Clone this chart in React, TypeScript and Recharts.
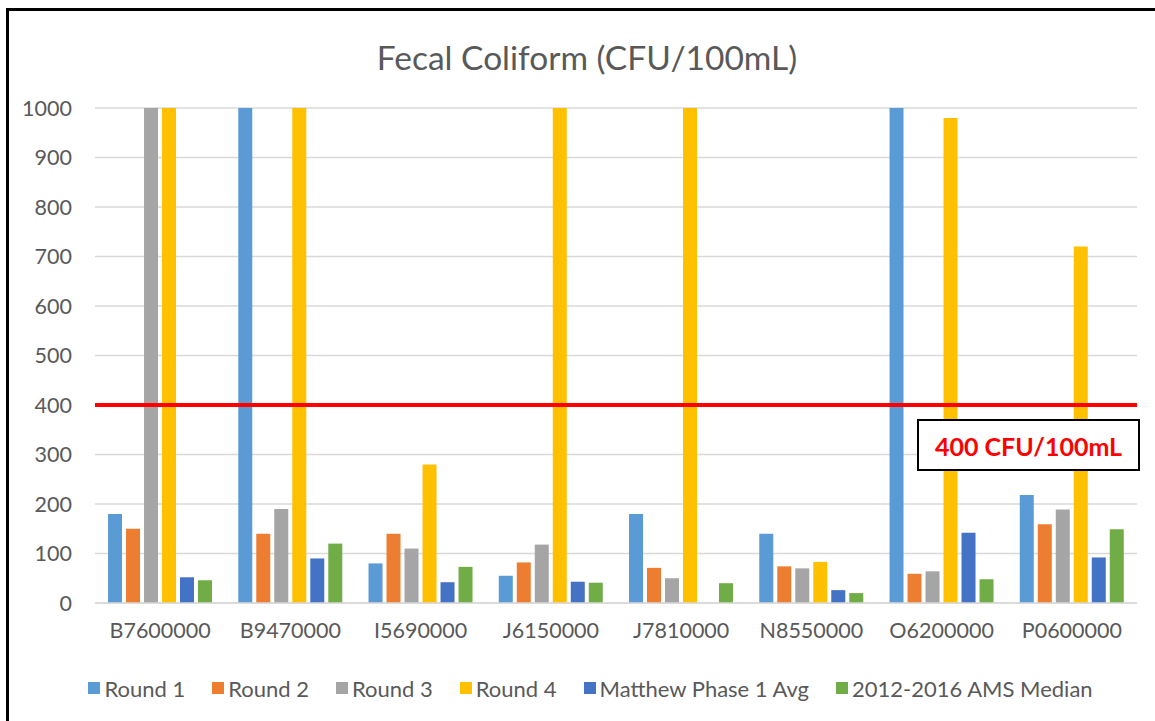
import React from 'react';
import { BarChart, Bar, XAxis, YAxis, CartesianGrid, ReferenceLine } from 'recharts';

const categories = ['B7600000', 'B9470000', 'I5690000', 'J6150000', 'J7810000', 'N8550000', 'O6200000', 'P0600000'];
const round1 = [180, 1000, 80, 55, 180, 140, 1000, 218];
const round2 = [150, 140, 140, 82, 71, 74, 59, 159];
const round3 = [1000, 190, 110, 118, 50, 70, 64, 189];
const round4 = [1000, 1000, 280, 1000, 1000, 83, 980, 720];
const matthew: (number | null)[] = [52, 90, 42, 43, null, 26, 142, 92];
const amsMedian = [46, 120, 73, 41, 40, 20, 48, 149];
const yTicks = [0, 100, 200, 300, 400, 500, 600, 700, 800, 900, 1000];
const threshold = 400;
const thresholdLabel = '400 CFU/100mL';
const title = 'Fecal Coliform (CFU/100mL)';

const series = [
  { key: 'r1', name: 'Round 1', color: '#5B9BD5', values: round1 },
  { key: 'r2', name: 'Round 2', color: '#ED7D31', values: round2 },
  { key: 'r3', name: 'Round 3', color: '#A5A5A5', values: round3 },
  { key: 'r4', name: 'Round 4', color: '#FFC000', values: round4 },
  { key: 'mt', name: 'Matthew Phase 1 Avg', color: '#4472C4', values: matthew },
  { key: 'ams', name: '2012-2016 AMS Median', color: '#70AD47', values: amsMedian },
];

const data = categories.map((c, i) => {
  const row: Record<string, any> = { name: c };
  series.forEach((s) => {
    row[s.key] = s.values[i];
  });
  return row;
});

const FONT = 'Lato, "Open Sans", sans-serif';
const TEXT = '#595959';

const ThresholdLabel = (props: any) => {
  const vb = props.viewBox || {};
  const right = vb.x + vb.width + 2;
  const w = 221;
  const h = 50;
  const x = right - w;
  const y = vb.y + 15;
  return (
    <g>
      <rect x={x} y={y} width={w} height={h} fill="#fff" stroke="#000" strokeWidth={2} />
      <text
        x={x + w / 2}
        y={y + h / 2 + 1}
        textAnchor="middle"
        dominantBaseline="central"
        fill="#FF0000"
        fontWeight="bold"
        fontSize={25}
        fontFamily={FONT}
      >
        {thresholdLabel}
      </text>
    </g>
  );
};

export default function App() {
  return (
    <div style={{ position: 'absolute', left: 0, top: 0, width: 1155, height: 721, overflow: 'hidden', background: '#fff' }}>
      <div
        style={{
          position: 'absolute',
          left: 6,
          top: 8,
          width: 1200,
          height: 760,
          border: '3px solid #000',
          boxSizing: 'border-box',
        }}
      />
      <div
        style={{
          position: 'absolute',
          left: 0,
          width: 1174,
          top: 36,
          textAlign: 'center',
          fontFamily: FONT,
          fontSize: 33.5,
          color: TEXT,
          lineHeight: '42px',
        }}
      >
        {title}
      </div>
      <div style={{ position: 'absolute', left: 0, top: 0 }}>
        <BarChart
          width={1155}
          height={721}
          data={data}
          margin={{ top: 108, right: 18, bottom: 88, left: 0 }}
          barCategoryGap="10%"
          barGap={4}
        >
          <CartesianGrid vertical={false} stroke="#D9D9D9" strokeWidth={1.5} />
          <XAxis
            dataKey="name"
            height={30}
            tickLine={false}
            axisLine={{ stroke: '#D9D9D9', strokeWidth: 1.5 }}
            tickSize={0}
            tickMargin={20}
            tick={{ fill: TEXT, fontSize: 21.5, fontFamily: FONT }}
            interval={0}
          />
          <YAxis
            width={95}
            domain={[0, 1000]}
            ticks={yTicks}
            tickLine={false}
            axisLine={false}
            tickSize={0}
            tickMargin={23}
            allowDataOverflow
            tick={{ fill: TEXT, fontSize: 21.5, fontFamily: FONT }}
          />
          {series.map((s) => (
            <Bar key={s.key} dataKey={s.key} name={s.name} fill={s.color} isAnimationActive={false} />
          ))}
          <ReferenceLine y={threshold} stroke="#FF0000" strokeWidth={4} label={<ThresholdLabel />} />
        </BarChart>
      </div>
      <div
        style={{
          position: 'absolute',
          left: 0,
          width: 1181,
          top: 674,
          height: 28,
          display: 'flex',
          justifyContent: 'center',
          alignItems: 'center',
          fontFamily: FONT,
        }}
      >
        {series.map((s, i) => (
          <div key={s.key} style={{ display: 'flex', alignItems: 'center', marginRight: i < series.length - 1 ? 27 : 0 }}>
            <span style={{ display: 'inline-block', width: 12, height: 12, background: s.color, marginRight: 4 }} />
            <span style={{ color: TEXT, fontSize: 22 }}>{s.name}</span>
          </div>
        ))}
      </div>
    </div>
  );
}
